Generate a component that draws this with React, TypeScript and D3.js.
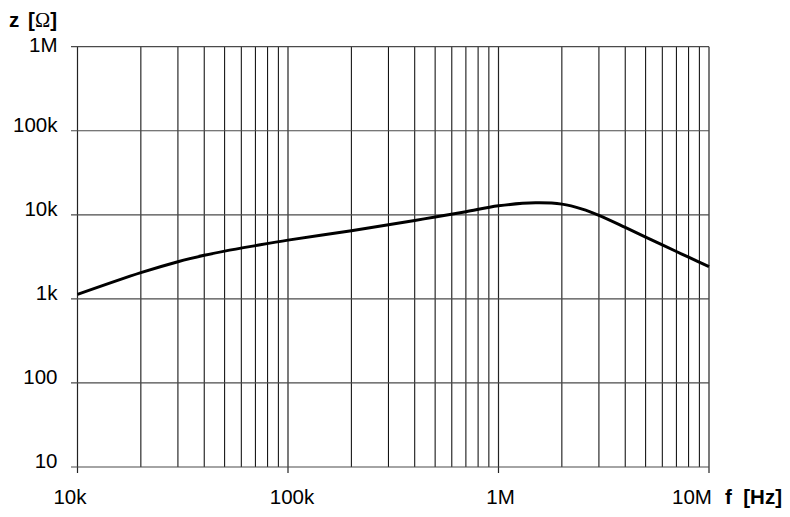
import React from "react";
import * as d3 from "d3";

// impedance vs frequency
const freqHz = [
  10e3, 20e3, 30e3, 40e3, 50e3, 70e3, 100e3, 200e3, 300e3, 400e3, 500e3,
  700e3, 1e6, 1.5e6, 2e6, 2.5e6, 3e6, 4e6, 5e6, 6e6, 7e6, 8e6, 10e6,
];
const zOhm = [
  1130, 2050, 2770, 3300, 3700, 4300, 5000, 6450, 7600, 8570, 9420, 10900,
  12800, 13900, 13400, 11700, 9850, 7080, 5430, 4390, 3660, 3130, 2420,
];

const xTicks = [1e4, 1e5, 1e6, 1e7];
const xTickLabels = ["10k", "100k", "1M", "10M"];
const yTicks = [10, 100, 1e3, 1e4, 1e5, 1e6];
const yTickLabels = ["10", "100", "1k", "10k", "100k", "1M"];

const W = 790;
const H = 517;
const left = 77.5;
const right = 709;
const top = 46.7;
const bottom = 467;

const x = d3.scaleLog().domain([1e4, 1e7]).range([left, right]);
const y = d3.scaleLog().domain([10, 1e6]).range([bottom, top]);

// minor verticals: 2..9 of each decade
const minorX: number[] = [];
for (let dec = 1e4; dec < 1e7; dec *= 10) {
  for (let m = 2; m <= 9; m++) minorX.push(dec * m);
}

const curve = d3
  .line<number>()
  .x((_, i) => x(freqHz[i]))
  .y((d) => y(d))
  .curve(d3.curveCatmullRom.alpha(0.5));

const font = "Arial, 'Liberation Sans', sans-serif";
const fs = 20.5;

// small nudges so the labels sit where the original ones do
const xLabelShift = (i: number) => [-7.5, 4, 2, -17][i] ?? 0;

export default function App() {
  return (
    <>
      <style>{`body{margin:0}`}</style>
      <svg width={W} height={H} style={{ display: "block", background: "#fff" }}>
        {/* vertical grid */}
        {minorX.map((f) => (
          <line key={"mx" + f} x1={x(f)} x2={x(f)} y1={top} y2={bottom} stroke="#000" strokeWidth={1} />
        ))}
        {xTicks.map((f) => (
          <line key={"vx" + f} x1={x(f)} x2={x(f)} y1={top} y2={bottom + 6} stroke="#222" strokeWidth={1.2} />
        ))}
        {/* horizontal grid */}
        {yTicks.map((v) => (
          <line key={"hy" + v} x1={left - 6.5} x2={right} y1={y(v)} y2={y(v)} stroke="#4a4a4a" strokeWidth={1.2} />
        ))}

        <path d={curve(zOhm) ?? ""} fill="none" stroke="#000" strokeWidth={3} strokeLinejoin="round" />

        {/* y labels */}
        {yTicks.map((v, i) => (
          <text
            key={"yl" + v}
            x={57.5}
            y={y(v) + (v === 1e6 ? 5 : 1)}
            textAnchor="end"
            fontFamily={font}
            fontSize={fs}
          >
            {yTickLabels[i]}
          </text>
        ))}
        {/* x labels */}
        {xTicks.map((f, i) => (
          <text
            key={"xl" + f}
            x={x(f) + xLabelShift(i)}
            y={504}
            textAnchor="middle"
            fontFamily={font}
            fontSize={fs}
          >
            {xTickLabels[i]}
          </text>
        ))}

        <text x={9} y={26.5} fontFamily={font} fontSize={fs} fontWeight="bold">
          z
        </text>
        <text x={57} y={26.5} textAnchor="end" fontFamily={font} fontSize={fs} fontWeight="bold">
          [<tspan fontWeight="normal" fontFamily="'Liberation Serif', serif">Ω</tspan>]
        </text>
        <text x={725} y={504} fontFamily={font} fontSize={fs} fontWeight="bold">
          f
        </text>
        <text x={782} y={504} textAnchor="end" fontFamily={font} fontSize={fs} fontWeight="bold">
          [Hz]
        </text>
      </svg>
    </>
  );
}
